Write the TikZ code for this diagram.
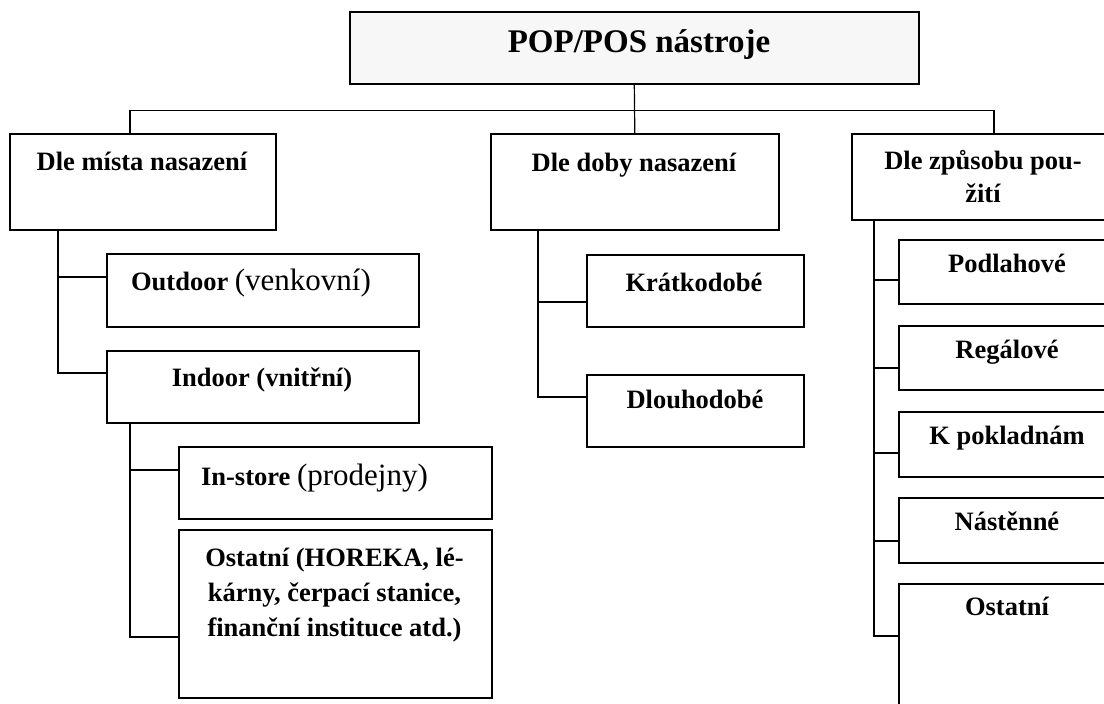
\documentclass[tikz,border=0pt]{standalone}
\usepackage{fontspec}
\setmainfont{Liberation Serif}
\begin{document}
\begin{tikzpicture}[x=1pt,y=-1pt,
  box/.style={draw=black, line width=1.6pt, inner sep=0pt, anchor=north west},
  wire/.style={draw=black, line width=1.2pt},
  lbl/.style={inner sep=0pt, anchor=base, font=\fontsize{26.5}{30}\selectfont\bfseries},
  ttl/.style={inner sep=0pt, anchor=base, font=\fontsize{33}{38}\selectfont\bfseries}]
\useasboundingbox (0,0) rectangle (1104,704);
\clip (0,0) rectangle (1104,704);

% root
\node[box, fill=black!3, minimum width=569pt, minimum height=72pt] (T) at (349,11) {};
\node[ttl] (Tt) at (639,52) {POP/POS nástroje};

% first level
\node[box, minimum width=266pt, minimum height=96pt] (L) at (9,133) {};
\node[lbl] (Lt) at (142,170) {Dle místa nasazení};
\node[box, minimum width=288pt, minimum height=96pt] (M) at (490,133) {};
\node[lbl] (Mt) at (634,171) {Dle doby nasazení};
\node[box, minimum width=264pt, minimum height=86pt] (R) at (851,133) {};
\node[lbl] (Rt1) at (983,169) {Dle způsobu pou-};
\node[lbl] (Rt2) at (983,202) {žití};

% place of use
\node[box, minimum width=312pt, minimum height=73pt] (Lo) at (106,253) {};
\node[lbl] (Lot) at (251,290) {Outdoor {\fontsize{31}{34}\selectfont\mdseries (venkovní)}};
\node[box, minimum width=312pt, minimum height=72pt] (Li) at (106,350) {};
\node[lbl] (Lit) at (262,386) {Indoor (vnitřní)};
\node[box, minimum width=313pt, minimum height=72pt] (Ls) at (178,446) {};
\node[lbl] (Lst) at (314.5,485) {In-store {\fontsize{31}{34}\selectfont\mdseries (prodejny)}};
\node[box, minimum width=313pt, minimum height=168pt] (Lx) at (178,529) {};
\node[lbl] (Lxt1) at (334.5,566) {Ostatní (HOREKA, lé-};
\node[lbl] (Lxt2) at (334.5,601) {kárny, čerpací stanice,};
\node[lbl] (Lxt3) at (334.5,636) {finanční instituce atd.)};

% duration
\node[box, minimum width=217pt, minimum height=72pt] (Mk) at (586,254) {};
\node[lbl] (Mkt) at (694,291) {Krátkodobé};
\node[box, minimum width=217pt, minimum height=72pt] (Md) at (586,374) {};
\node[lbl] (Mdt) at (695,408) {Dlouhodobé};

% way of use
\node[box, minimum width=217pt, minimum height=64pt] (Ra) at (898,239) {};
\node[lbl] (Rat) at (1007,272) {Podlahové};
\node[box, minimum width=217pt, minimum height=64pt] (Rb) at (898,325) {};
\node[lbl] (Rbt) at (1007,358) {Regálové};
\node[box, minimum width=217pt, minimum height=65pt] (Rc) at (898,411) {};
\node[lbl] (Rct) at (1007,444) {K pokladnám};
\node[box, minimum width=217pt, minimum height=65pt] (Rd) at (898,497) {};
\node[lbl] (Rdt) at (1007,530) {Nástěnné};
\node[box, minimum width=217pt, minimum height=130pt] (Re) at (898,583) {};
\node[lbl] (Ret) at (1007,615) {Ostatní};

% bus from the root to the three groups
\draw[wire] (T.south) -- (M.north);
\draw[wire] ([xshift=121pt]L.north west) |- ([yshift=-26pt]T.south) -| ([xshift=143pt]R.north west);

% branches: place of use
\draw[wire] ([yshift=-23pt]Li.north west) -| ([xshift=49pt]L.south west);
\draw[wire] ([yshift=-24pt]Lo.north west) -- ++(-48,0);
\draw[wire] ([yshift=-108pt]Lx.north west) -| ([xshift=24pt]Li.south west);
\draw[wire] ([yshift=-24pt]Ls.north west) -- ++(-48,0);

% branches: duration
\draw[wire] ([yshift=-23pt]Md.north west) -| ([xshift=48pt]M.south west);
\draw[wire] ([yshift=-48pt]Mk.north west) -- ++(-48,0);

% branches: way of use
\draw[wire] ([yshift=-53pt]Re.north west) -| ([xshift=23pt]R.south west);
\draw[wire] ([yshift=-41pt]Ra.north west) -- ++(-24,0);
\draw[wire] ([yshift=-43pt]Rb.north west) -- ++(-24,0);
\draw[wire] ([yshift=-42pt]Rc.north west) -- ++(-24,0);
\draw[wire] ([yshift=-44pt]Rd.north west) -- ++(-24,0);
\end{tikzpicture}
\end{document}
